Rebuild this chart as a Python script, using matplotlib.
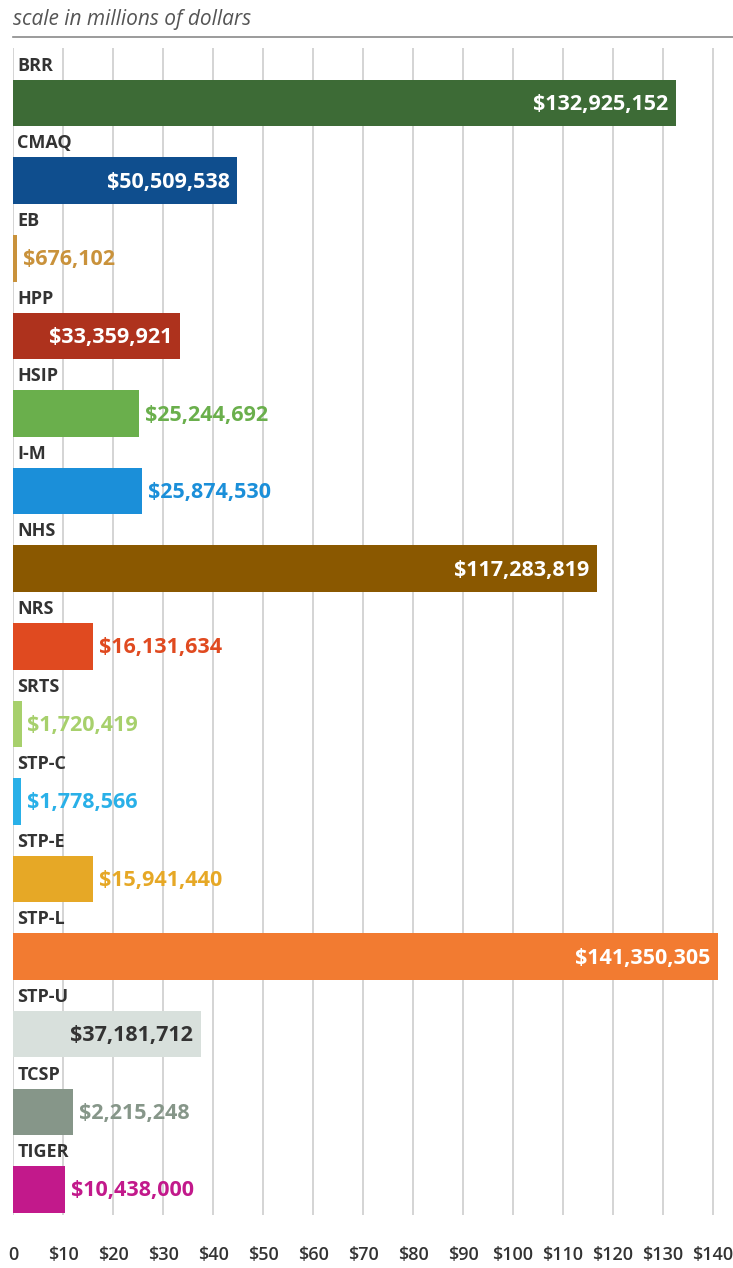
import matplotlib
matplotlib.use('Agg')
import matplotlib.pyplot as plt
import numpy as np

plt.rcParams['font.family'] = ['Open Sans', 'DejaVu Sans']

programs = ['BRR', 'CMAQ', 'EB', 'HPP', 'HSIP', 'I-M', 'NHS', 'NRS', 'SRTS',
            'STP-C', 'STP-E', 'STP-L', 'STP-U', 'TCSP', 'TIGER']
# amounts as printed on the labels (dollars)
amounts = [132925152, 50509538, 676102, 33359921, 25244692, 25874530, 117283819,
           16131634, 1720419, 1778566, 15941440, 141350305, 37181712, 2215248, 10438000]
# bar lengths as drawn in the picture (millions)
bar_millions = [132.6, 44.8, 0.8, 33.3, 25.2, 25.8, 116.8, 16.0, 1.7, 1.6, 16.0,
                141.0, 37.5, 12.0, 10.4]
colors = ['#3d6b36', '#0f4e8e', '#c9923b', '#ae321d', '#6aaf4c', '#1b8fd9', '#8a5800',
          '#e04a20', '#a7d06c', '#29b0e8', '#e6a826', '#f27b31', '#d8e0dc', '#869689',
          '#c2198b']
inside = [True, True, False, True, False, False, True, False, False, False, False,
          True, True, False, False]
xticks = np.arange(0, 150, 10)
xticklabels = ['0'] + ['$%d' % v for v in xticks[1:]]

fig = plt.figure(figsize=(7.33, 12.68), dpi=100)
fig.patch.set_facecolor('white')
ax = fig.add_axes([13 / 733, 1 - 1215 / 1268, 707 / 733, (1215 - 48) / 1268])

ypos = np.arange(len(programs))
ax.barh(ypos, bar_millions, height=0.6, color=colors, zorder=2)

for i, name in enumerate(programs):
    ax.text(0.9, i - 0.48, name, fontsize=13, fontweight='bold', color='#333333',
            va='center', ha='left', zorder=3)
    label = '${:,}'.format(amounts[i])
    if inside[i]:
        tc = '#333333' if programs[i] == 'STP-U' else 'white'
        ax.text(bar_millions[i] - 1.5, i + 0.02, label, fontsize=15.5, color=tc,
                fontweight='bold', va='center', ha='right', zorder=3)
    else:
        ax.text(bar_millions[i] + 1.2, i + 0.02, label, fontsize=15.5, color=colors[i],
                fontweight='bold', va='center', ha='left', zorder=3)

ax.set_xlim(0, 141.4)
ax.set_ylim(14.33, -0.71)
ax.set_xticks(xticks)
ax.set_xticklabels(xticklabels, fontsize=13, color='#333333', fontweight='semibold')
ax.set_yticks([])
ax.tick_params(axis='x', length=0, pad=22)
ax.grid(axis='x', color='#d4d4d4', linewidth=1.4, zorder=0)
for s in ax.spines.values():
    s.set_visible(False)

fig.text(13 / 733, 1 - 20 / 1268, 'scale in millions of dollars', fontsize=15,
         style='italic', color='#555555', va='center', ha='left')
fig.add_artist(plt.Line2D([13 / 733, 1.0], [1 - 37 / 1268] * 2, color='#8a8a8a',
                          linewidth=1.2))

fig.savefig('out.png', dpi=100, facecolor='white')
